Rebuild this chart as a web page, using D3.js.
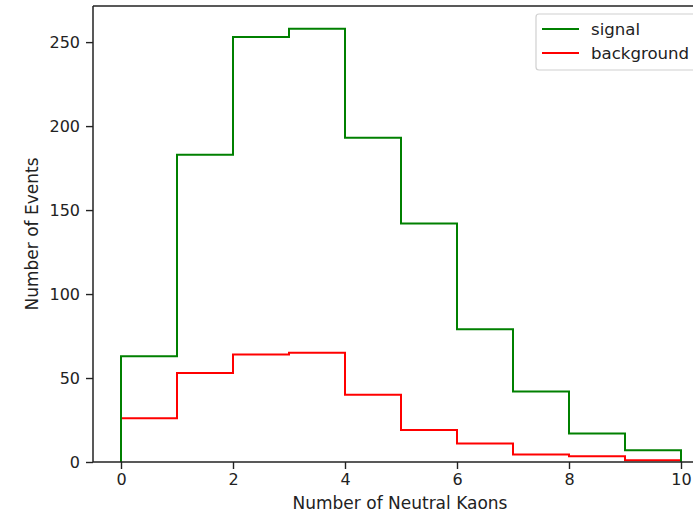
<!DOCTYPE html>
<html>
<head>
<meta charset="utf-8">
<script src="https://cdn.jsdelivr.net/npm/d3@7"></script>
<style>
  body { margin: 0; background: #fff; }
  svg { display: block; font-family: "DejaVu Sans", sans-serif; }
  .tick text { font-size: 16px; fill: #222; }
</style>
</head>
<body>
<svg id="chart" width="693" height="517"></svg>
<script>
// bin edges 0..10, one count per bin
var binEdges = [0, 1, 2, 3, 4, 5, 6, 7, 8, 9, 10];
var signalCounts = [63, 183, 253, 258, 193, 142, 79, 42, 17, 7];
var backgroundCounts = [26, 53, 64, 65, 40, 19, 11, 4.5, 3.4, 1];
var xTicks = [0, 2, 4, 6, 8, 10];
var yTicks = [0, 50, 100, 150, 200, 250];
var seriesNames = ['signal', 'background'];
var seriesColors = ['#008000', '#ff0000'];

var svg = d3.select('#chart');

var x = d3.scaleLinear().domain([-0.5, 10.5]).range([93, 709]);
var y = d3.scaleLinear().domain([0, 271.5]).range([462, 6]);

// outline of a step histogram, closed down to zero at both ends
function stepPoints(counts) {
    var pts = [[binEdges[0], 0]];
    counts.forEach(function(c, i) {
        pts.push([binEdges[i], c]);
        pts.push([binEdges[i + 1], c]);
    });
    pts.push([binEdges[binEdges.length - 1], 0]);
    return pts;
}

var line = d3.line()
    .x(function(d) { return x(d[0]); })
    .y(function(d) { return y(d[1]); });

var plot = svg.append('g').attr('id', 'plot');

// background first, signal on top
[[backgroundCounts, seriesColors[1]], [signalCounts, seriesColors[0]]].forEach(function(s) {
    plot.append('path')
        .attr('d', line(stepPoints(s[0])))
        .attr('fill', 'none')
        .attr('stroke', s[1])
        .attr('stroke-width', 2)
        .attr('stroke-linejoin', 'miter');
});

// axes
var xAxis = svg.append('g')
    .attr('transform', 'translate(0,462)')
    .call(d3.axisBottom(x).tickValues(xTicks).tickSize(7).tickPadding(5).tickFormat(d3.format('d')));
var yAxis = svg.append('g')
    .attr('transform', 'translate(93,0)')
    .call(d3.axisLeft(y).tickValues(yTicks).tickSize(7).tickPadding(6).tickFormat(d3.format('d')));

[xAxis, yAxis].forEach(function(a) {
    a.select('.domain').remove();
    a.selectAll('.tick line').attr('stroke', '#222').attr('stroke-width', 1.4);
    a.selectAll('.tick text').attr('font-family', 'DejaVu Sans');
});

// spines
svg.append('line').attr('x1', 93).attr('x2', 93).attr('y1', 6).attr('y2', 462)
    .attr('stroke', '#222').attr('stroke-width', 1.5);
svg.append('line').attr('x1', 93).attr('x2', 709).attr('y1', 462).attr('y2', 462)
    .attr('stroke', '#222').attr('stroke-width', 1.5);
svg.append('line').attr('x1', 93).attr('x2', 709).attr('y1', 6).attr('y2', 6)
    .attr('stroke', '#222').attr('stroke-width', 1.5);

// axis labels
svg.append('text')
    .attr('x', 400).attr('y', 509)
    .attr('text-anchor', 'middle')
    .style('font-size', '17px').attr('fill', '#222')
    .text('Number of Neutral Kaons');
svg.append('text')
    .attr('transform', 'translate(38,234) rotate(-90)')
    .attr('text-anchor', 'middle')
    .style('font-size', '17px').attr('fill', '#222')
    .text('Number of Events');

// legend
var legend = svg.append('g').attr('id', 'legend');
legend.append('rect')
    .attr('x', 536).attr('y', 14).attr('width', 200).attr('height', 56)
    .attr('rx', 3)
    .attr('fill', '#fff').attr('fill-opacity', 0.8)
    .attr('stroke', '#d0d0d0').attr('stroke-width', 1.2);
seriesNames.forEach(function(name, i) {
    var ly = 29 + i * 24;
    legend.append('line')
        .attr('x1', 542).attr('x2', 579).attr('y1', ly).attr('y2', ly)
        .attr('stroke', seriesColors[i]).attr('stroke-width', 2);
    legend.append('text')
        .attr('x', 591).attr('y', ly + 6)
        .style('font-size', '16.6px').attr('fill', '#222')
        .text(name);
});
</script>
</body>
</html>
